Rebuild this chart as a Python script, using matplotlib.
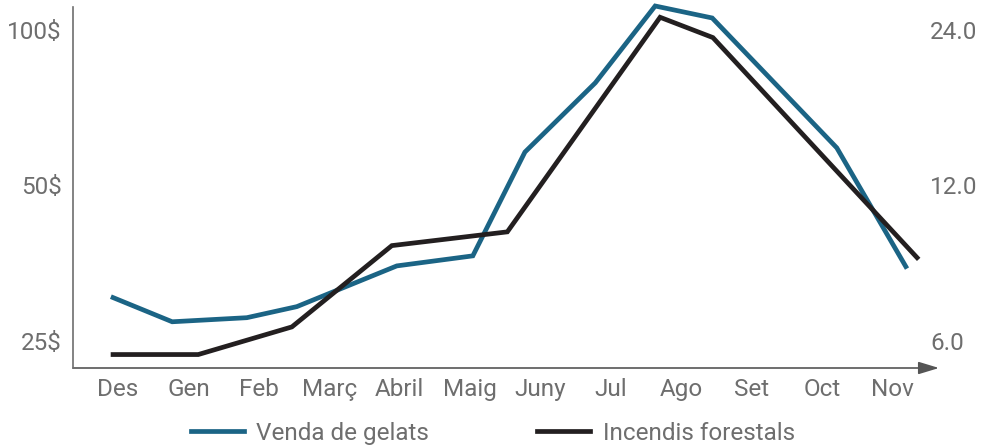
import matplotlib
matplotlib.use("Agg")
import matplotlib.pyplot as plt
from matplotlib.patches import FancyArrowPatch

# -------------------------------------------------------------
# DATA
# -------------------------------------------------------------
months = ["Des", "Gen", "Feb", "Març", "Abril", "Maig",
          "Juny", "Jul", "Ago", "Set", "Oct", "Nov"]

# ice cream sales (left axis, $) - x in month units
gelats_x = [-0.07, 0.77, 1.83, 2.54, 3.96, 5.04, 5.78, 6.78, 7.63, 8.44, 10.21, 11.19]
gelats_y = [30.3, 27.2, 27.7, 29.1, 34.9, 36.5, 58.0, 79.0, 111.3, 105.5, 59.1, 34.8]

# forest fires (right axis)
incendis_x = [-0.07, 1.14, 2.47, 3.89, 5.53, 7.70, 8.45, 11.35]
incendis_y = [5.64, 5.64, 6.38, 9.17, 9.75, 25.4, 23.2, 8.69]

left_ticks = [25, 50, 100]
right_ticks = [6, 12, 24]

BLUE = "#1b6485"
BLACK = "#231f20"
GREY = "#6e6e6e"
FS = 17.5

plt.rcParams["font.family"] = ["Roboto", "DejaVu Sans"]

# -------------------------------------------------------------
# PLOT
# -------------------------------------------------------------
fig = plt.figure(figsize=(9.86, 4.48), dpi=100)
ax = fig.add_axes([73 / 986, 1 - 368 / 448, 849 / 986, 361 / 448])
ax2 = ax.twinx()

ax.plot(gelats_x, gelats_y, color=BLUE, lw=3.4, solid_joinstyle="miter",
        clip_on=False, label="Venda de gelats")
ax2.plot(incendis_x, incendis_y, color=BLACK, lw=3.4, solid_joinstyle="miter",
         clip_on=False, label="Incendis forestals")

for a in (ax, ax2):
    a.set_yscale("log", base=2)
    a.set_xlim(-0.639, 11.42)
    a.minorticks_off()
    for s in a.spines.values():
        s.set_visible(False)

ax.set_ylim(22.13, 110.8)
ax2.set_ylim(22.13 * 0.24, 110.8 * 0.24)

ax.set_yticks(left_ticks)
ax.set_yticklabels([f"{v}$" for v in left_ticks])
ax2.set_yticks(right_ticks)
ax2.set_yticklabels([f"{v:.1f}" for v in right_ticks])

ax.set_xticks(range(len(months)))
ax.set_xticklabels(months)

ax.tick_params(axis="y", length=0, pad=8, labelsize=FS, labelcolor=GREY)
ax.tick_params(axis="x", length=0, pad=7, labelsize=FS, labelcolor=GREY)
ax2.tick_params(axis="y", length=0, pad=6, labelsize=FS, labelcolor=GREY)

ax.spines["left"].set_visible(True)
ax.spines["left"].set_color(GREY)
ax.spines["left"].set_linewidth(1.2)

# x axis with arrow head
arrow = FancyArrowPatch((0, 0), (1 + 17 / 849, 0), transform=ax.transAxes,
                        arrowstyle="-|>,head_length=1.25,head_width=0.38",
                        mutation_scale=10, color="#555555", lw=1.2,
                        shrinkA=0, shrinkB=0, clip_on=False)
ax.add_patch(arrow)

h1, l1 = ax.get_legend_handles_labels()
h2, l2 = ax2.get_legend_handles_labels()
fig.legend(h1 + h2, l1 + l2, loc="center", bbox_to_anchor=(0.5, 1 - 433 / 448),
           ncol=2, frameon=False, fontsize=FS, labelcolor=GREY,
           handlelength=2.18, handletextpad=0.53, columnspacing=4.45)

fig.savefig("out.png", dpi=100)
